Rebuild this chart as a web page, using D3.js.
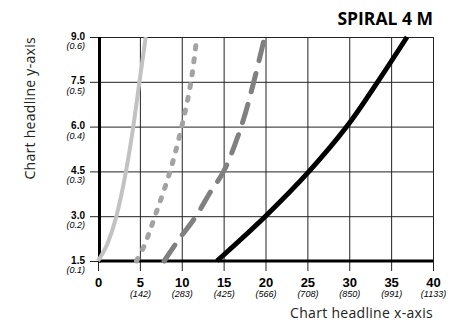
<!DOCTYPE html>
<html>
<head>
<meta charset="utf-8">
<script src="https://cdn.jsdelivr.net/npm/d3@7"></script>
<style>
  body { margin: 0; background: #fff; }
  svg { display: block; }
</style>
</head>
<body>
<svg class="viz" width="462" height="325"></svg>
<script>
// tick values and their secondary labels
var xTicks = [0, 5, 10, 15, 20, 25, 30, 35, 40];
var xSub = ["", "(142)", "(283)", "(425)", "(566)", "(708)", "(850)", "(991)", "(1133)"];
var yTicks = [1.5, 3.0, 4.5, 6.0, 7.5, 9.0];
var ySub = ["(0.1)", "(0.2)", "(0.3)", "(0.4)", "(0.5)", "(0.6)"];

// series as [x, y]
var lightSeries = [[0, 1.5], [1, 2.0], [2, 2.8], [3, 4.0], [4, 5.6], [5, 7.6], [5.7, 9.0]];
var dottedSeries = [[4.6, 1.5], [5.5, 2.0], [6.8, 3.0], [8.6, 4.5], [10, 6.0], [11.1, 7.5], [11.8, 9.0]];
var dashedSeries = [[7.9, 1.5], [9.6, 2.2], [11.7, 3.0], [13.4, 3.8], [15, 4.5], [17.1, 6.0], [18.6, 7.5], [19.9, 9.0]];
var blackSeries = [[14.2, 1.5], [20, 3.0], [25.2, 4.5], [29.7, 6.0], [33.4, 7.5], [36.9, 9.0]];

var svg = d3.select(".viz");

var scaleX = d3.scaleLinear().domain([0, 40]).range([98, 433]);
var scaleY = d3.scaleLinear().domain([1.5, 9.0]).range([261, 37]);

var plotH = scaleY(1.5) - scaleY(9.0);
var plotW = scaleX(40) - scaleX(0);

// x grid + ticks
var xAxis = d3.axisBottom(scaleX)
  .tickValues(xTicks)
  .tickSize(10)
  .tickSizeOuter(0)
  .tickFormat(d3.format("d"));

var gx = svg.append("g")
  .attr("transform", "translate(0," + scaleY(1.5) + ")")
  .call(xAxis);
gx.select(".domain").remove();
gx.selectAll(".tick line")
  .attr("y1", -plotH)
  .attr("stroke", "#222");
gx.selectAll(".tick text")
  .attr("y", 26)
  .attr("dy", 0)
  .attr("font-family", "'Liberation Sans', Arial, sans-serif")
  .attr("font-weight", "bold")
  .attr("font-size", "13px")
  .attr("fill", "#000");
gx.selectAll(".tick")
  .append("text")
  .text(function (d, i) { return xSub[i]; })
  .attr("y", 35.5)
  .attr("text-anchor", "middle")
  .attr("font-family", "'Liberation Sans', Arial, sans-serif")
  .attr("font-style", "italic")
  .attr("font-size", "9px")
  .attr("fill", "#000");

// y grid + ticks
var yAxis = d3.axisLeft(scaleY)
  .tickValues(yTicks)
  .tickSize(10)
  .tickSizeOuter(0)
  .tickFormat(d3.format(".1f"));

var gy = svg.append("g")
  .attr("transform", "translate(" + scaleX(0) + ",0)")
  .call(yAxis);
gy.select(".domain").remove();
gy.selectAll(".tick line")
  .attr("x1", plotW)
  .attr("x2", -8)
  .attr("stroke", "#222");
gy.selectAll(".tick text")
  .attr("x", -13)
  .attr("y", 2)
  .attr("dy", 0)
  .attr("font-family", "'Liberation Sans', Arial, sans-serif")
  .attr("font-weight", "bold")
  .attr("font-size", "10px")
  .attr("fill", "#000");
gy.selectAll(".tick")
  .append("text")
  .text(function (d, i) { return ySub[i]; })
  .attr("x", -13)
  .attr("y", 11.5)
  .attr("text-anchor", "end")
  .attr("font-family", "'Liberation Sans', Arial, sans-serif")
  .attr("font-style", "italic")
  .attr("font-size", "9px")
  .attr("fill", "#000");

// thick axis lines
svg.append("line")
  .attr("x1", scaleX(0) + 1.5).attr("x2", scaleX(0) + 1.5)
  .attr("y1", scaleY(9.0)).attr("y2", scaleY(1.5) + 1.5)
  .style("stroke", "#000")
  .style("stroke-width", "3px");
svg.append("line")
  .attr("x1", scaleX(0)).attr("x2", scaleX(40))
  .attr("y1", scaleY(1.5)).attr("y2", scaleY(1.5))
  .style("stroke", "#000")
  .style("stroke-width", "3px");

// curves
var line = d3.line()
  .x(function (d) { return scaleX(d[0]); })
  .y(function (d) { return scaleY(d[1]); })
  .curve(d3.curveCatmullRom.alpha(0.5));

svg.append("path")
  .datum(lightSeries)
  .attr("d", line)
  .attr("fill", "none")
  .style("stroke", "#c2c2c2")
  .style("stroke-width", "4px");

svg.append("path")
  .datum(dottedSeries)
  .attr("d", line)
  .attr("fill", "none")
  .style("stroke", "#a3a3a3")
  .style("stroke-width", "5px")
  .style("stroke-linecap", "round")
  .style("stroke-dasharray", "3,10");

svg.append("path")
  .datum(dashedSeries)
  .attr("d", line)
  .attr("fill", "none")
  .style("stroke", "#808080")
  .style("stroke-width", "5px")
  .style("stroke-linecap", "round")
  .style("stroke-dasharray", "19,13");

svg.append("path")
  .datum(blackSeries)
  .attr("d", line)
  .attr("fill", "none")
  .style("stroke", "#000")
  .style("stroke-width", "5px");

// titles
svg.append("text")
  .text("SPIRAL 4 M")
  .attr("x", 433)
  .attr("y", 25)
  .attr("text-anchor", "end")
  .attr("font-family", "'Open Sans', sans-serif")
  .attr("font-weight", "bold")
  .attr("font-size", "17.5px")
  .attr("fill", "#000");

svg.append("text")
  .text("Chart headline x-axis")
  .attr("x", 433)
  .attr("y", 318)
  .attr("text-anchor", "end")
  .attr("font-family", "'Open Sans', sans-serif")
  .attr("font-size", "14px")
  .attr("letter-spacing", "0.3px")
  .attr("fill", "#222");

svg.append("text")
  .text("Chart headline y-axis")
  .attr("transform", "translate(35,37) rotate(-90)")
  .attr("text-anchor", "end")
  .attr("font-family", "'Open Sans', sans-serif")
  .attr("font-size", "14px")
  .attr("letter-spacing", "0.3px")
  .attr("fill", "#222");
</script>
</body>
</html>
